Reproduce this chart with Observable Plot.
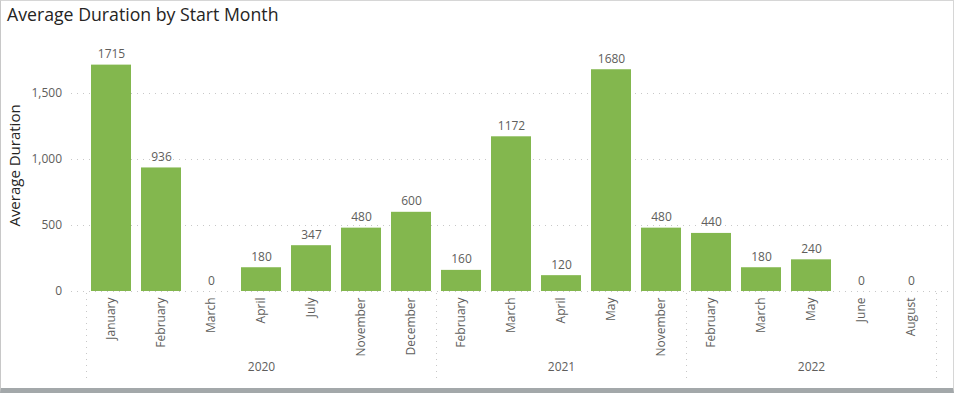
<!DOCTYPE html>
<html>
<head>
<meta charset="utf-8">
<script src="https://cdn.jsdelivr.net/npm/d3@7"></script>
<script src="https://cdn.jsdelivr.net/npm/@observablehq/plot@0.6"></script>
<style>
  html, body { margin: 0; padding: 0; background: #fff; overflow: hidden; }
  #wrap { position: relative; width: 955px; height: 393px; }
  #title { position: absolute; left: 7px; top: 2px; font-family: "Open Sans", sans-serif; font-size: 17.7px; color: #252423; white-space: nowrap; }
  #frame { position: absolute; left: 0; top: 0; width: 954px; height: 393px; box-sizing: border-box;
           border-top: 1px solid #d6d6d6; border-left: 1px solid #c8c8c8; border-right: 1px solid #d6d6d6; border-bottom: 5px solid #a3a8aa; pointer-events: none; }
  svg { display: block; }
</style>
</head>
<body>
<div id="wrap">
  <div id="chart"></div>
  <div id="title">Average Duration by Start Month</div>
  <div id="frame"></div>
</div>
<script>
const years  = ["2020","2020","2020","2020","2020","2020","2020","2021","2021","2021","2021","2021","2022","2022","2022","2022","2022"];
const months = ["January","February","March","April","July","November","December","February","March","April","May","November","February","March","May","June","August"];
const values = [1715, 936, 0, 180, 347, 480, 600, 160, 1172, 120, 1680, 480, 440, 180, 240, 0, 0];
const yTicks = [0, 500, 1000, 1500];
const yearLabels = ["2020", "2021", "2022"];

const data = months.map((m, i) => ({key: i, month: m, year: years[i], value: values[i]}));
const keys = data.map(d => d.key);

// group info
const groups = yearLabels.map(y => {
  const items = data.filter(d => d.year === y);
  return {year: y, first: items[0].key, last: items[items.length - 1].key, mid: items[Math.floor(items.length / 2)].key};
});

const textColor = "#605E5C";
const font = "'Open Sans', sans-serif";

const chart = Plot.plot({
  width: 955,
  height: 393,
  marginLeft: 85.5,
  marginRight: 19.5,
  marginTop: 27,
  marginBottom: 102,
  style: {fontFamily: font, background: "transparent", color: textColor},
  x: {type: "band", domain: keys, paddingInner: 0.2, paddingOuter: 0.1},
  y: {domain: [0, 2000]},
  marks: [
    Plot.ruleY(yTicks, {y: d => d, stroke: "#c8c8c8", strokeDasharray: "1,5", insetLeft: -14.5, insetRight: -14.5}),
    Plot.barY(data, {x: "key", y: "value", fill: "#83B74E"}),
    Plot.text(data, {x: "key", y: "value", text: d => String(d.value), lineAnchor: "bottom", dy: -7, fill: textColor, fontSize: 12}),
    Plot.axisY({ticks: yTicks, tickFormat: d3.format(","), tickSize: 0, tickPadding: 24, fontSize: 12, fill: textColor, label: null}),
    Plot.axisX({tickFormat: i => months[i], tickRotate: -90, tickSize: 0, tickPadding: 6, fontSize: 12, fill: textColor, label: null}),
    Plot.text(groups, {x: "mid", text: "year", frameAnchor: "bottom", dy: 79, fill: textColor, fontSize: 12}),
    Plot.ruleX(groups, {x: "first", dx: -25, stroke: "#c8c8c8", strokeDasharray: "1,5", insetTop: 266, insetBottom: -90}),
    Plot.ruleX(groups.slice(-1), {x: "last", dx: 25, stroke: "#c8c8c8", strokeDasharray: "1,5", insetTop: 266, insetBottom: -90}),
    Plot.text(["Average Duration"], {text: d => d, frameAnchor: "left", textAnchor: "middle", rotate: -90, dx: -71, dy: 6, fontSize: 15, fill: "#252423"})
  ]
});
document.getElementById("chart").appendChild(chart);
</script>
</body>
</html>
